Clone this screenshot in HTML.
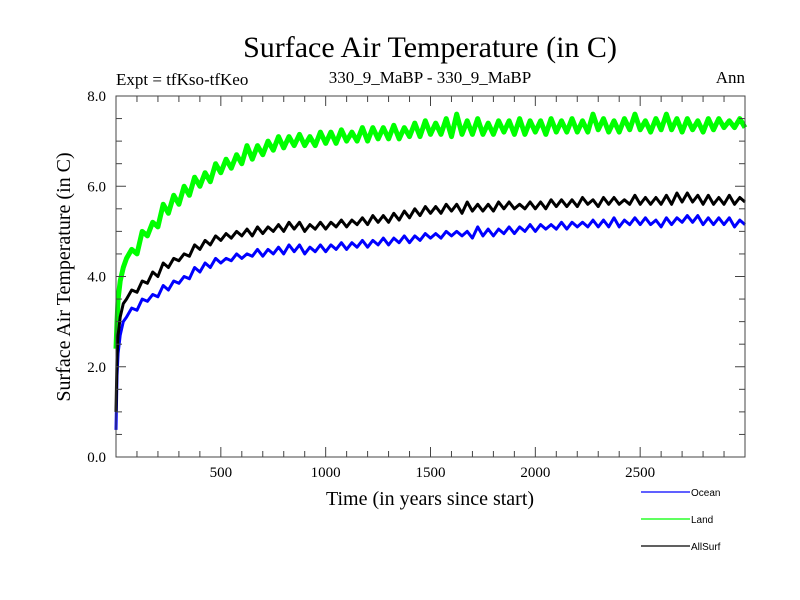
<!DOCTYPE html>
<html><head><meta charset="utf-8"><style>
body{margin:0;background:#fff}
svg{display:block}
text{font-family:"Liberation Serif",serif;fill:#000}
.leg{font-family:"Liberation Sans",sans-serif;font-size:10px}
</style></head><body>
<svg id="chart" width="800" height="600" viewBox="0 0 800 600">
<text x="430" y="57" font-size="30" text-anchor="middle">Surface Air Temperature (in C)</text>
<text x="116" y="85" font-size="17">Expt = tfKso-tfKeo</text>
<text x="430" y="83" font-size="17" text-anchor="middle">330_9_MaBP - 330_9_MaBP</text>
<text x="745" y="83" font-size="17" text-anchor="end">Ann</text>
<text x="430" y="505" font-size="20" text-anchor="middle">Time (in years since start)</text>
<text transform="translate(70,277) rotate(-90)" font-size="20" text-anchor="middle">Surface Air Temperature (in C)</text>
<g id="series"></g>
<rect x="116" y="96" width="629" height="361" fill="none" stroke="#444" stroke-width="1"/>
<g id="axes"></g>
<g>
<line x1="641" y1="492" x2="690" y2="492" stroke="#0000ff" stroke-width="1.2"/>
<text class="leg" x="691" y="496">Ocean</text>
<line x1="641" y1="519" x2="690" y2="519" stroke="#00ff00" stroke-width="1.2"/>
<text class="leg" x="691" y="523">Land</text>
<line x1="641" y1="546" x2="690" y2="546" stroke="#000" stroke-width="1.2"/>
<text class="leg" x="691" y="550">AllSurf</text>
</g>
</svg>
<script>
const yearsStart = [0,5,10,20,35,50];
const yearStep = 25;
const xTicks = [500,1000,1500,2000,2500];
const yTicks = [0,2,4,6,8];
const yTickLabels = ["0.0","2.0","4.0","6.0","8.0"];
const land = [2.4,3.0,3.5,3.9,4.2,4.4,
4.6,4.5,5.0,4.9,5.2,5.1,5.6,5.4,5.8,5.6,
6.0,5.8,6.2,6.0,6.3,6.1,6.5,6.3,6.6,6.4,6.7,6.5,6.9,6.6,6.9,6.7,7.0,6.8,7.1,6.85,7.1,6.9,7.15,6.9,
7.1,6.9,7.2,6.95,7.2,6.95,7.25,7.0,7.2,7.0,7.3,7.0,7.3,7.05,7.3,7.05,7.35,7.05,7.3,7.1,7.4,7.1,7.45,7.15,7.4,7.15,7.5,7.1,7.6,7.15,7.45,7.15,7.5,7.15,7.4,7.15,7.45,7.2,7.45,7.15,7.5,7.15,7.45,7.2,
7.45,7.15,7.5,7.2,7.45,7.2,7.5,7.2,7.45,7.2,7.6,7.25,7.5,7.2,7.45,7.2,7.5,7.25,7.6,7.25,7.45,7.2,7.5,7.25,7.6,7.25,7.5,7.2,7.5,7.25,7.45,7.2,7.5,7.25,7.5,7.3,7.45,7.3,7.5,7.3,7.45];
const ocean = [0.6,1.8,2.3,2.7,3.0,3.1,
3.3,3.25,3.5,3.45,3.6,3.55,3.8,3.7,3.9,3.85,
4.0,3.95,4.2,4.1,4.3,4.2,4.4,4.3,4.4,4.35,4.5,4.4,4.5,4.45,4.6,4.45,4.6,4.5,4.65,4.5,4.7,4.55,4.7,4.5,
4.65,4.55,4.7,4.55,4.7,4.6,4.75,4.6,4.75,4.65,4.8,4.65,4.8,4.7,4.85,4.7,4.85,4.75,4.9,4.75,4.9,4.8,4.95,4.85,4.95,4.85,5.0,4.9,5.0,4.9,5.0,4.85,5.1,4.9,5.05,4.9,5.05,4.95,5.1,4.95,5.1,5.0,5.15,5.0,
5.15,5.05,5.15,5.05,5.2,5.05,5.2,5.1,5.2,5.1,5.25,5.1,5.25,5.1,5.3,5.1,5.25,5.15,5.3,5.15,5.3,5.15,5.25,5.1,5.3,5.15,5.3,5.2,5.35,5.2,5.35,5.15,5.3,5.15,5.3,5.15,5.3,5.1,5.25,5.15];
const allSurf = [1.0,2.2,2.7,3.1,3.4,3.5,
3.7,3.65,3.9,3.85,4.1,4.0,4.3,4.2,4.4,4.35,
4.5,4.45,4.7,4.6,4.8,4.7,4.9,4.8,4.95,4.85,5.0,4.9,5.05,4.9,5.1,4.95,5.1,5.0,5.15,5.0,5.2,5.05,5.2,5.0,
5.15,5.05,5.2,5.05,5.2,5.1,5.25,5.1,5.25,5.15,5.3,5.15,5.35,5.2,5.35,5.2,5.4,5.25,5.45,5.3,5.5,5.35,5.55,5.4,5.55,5.4,5.6,5.45,5.6,5.4,5.65,5.45,5.6,5.45,5.6,5.45,5.65,5.5,5.65,5.5,5.6,5.5,5.65,5.5,
5.65,5.5,5.7,5.55,5.7,5.55,5.7,5.55,5.75,5.6,5.7,5.55,5.75,5.6,5.75,5.6,5.7,5.6,5.8,5.6,5.75,5.6,5.75,5.6,5.8,5.6,5.85,5.65,5.85,5.65,5.8,5.6,5.8,5.6,5.75,5.6,5.8,5.6,5.75,5.65];
const years = yearsStart.slice();
for (let y = 75; y <= 3000; y += yearStep) years.push(y);

const X0=116,X1=745,Y0=457,Y1=96;
const xs = v => X0 + (v/3000)*(X1-X0);
const ys = v => Y0 - (v/8)*(Y0-Y1);
const NS="http://www.w3.org/2000/svg";
const sg=document.getElementById('series');
function draw(vals,color,name,w){
  const n=Math.min(vals.length,years.length);
  let pts=[];
  for(let i=0;i<n;i++) pts.push(xs(years[i]).toFixed(1)+','+ys(vals[i]).toFixed(1));
  const p=document.createElementNS(NS,'polyline');
  p.setAttribute('points',pts.join(' '));
  p.setAttribute('fill','none');p.setAttribute('stroke',color);p.setAttribute('stroke-width',w);
  p.setAttribute('stroke-linejoin','round');
  
  
  sg.appendChild(p);
}
draw(land,'#00ff00','land-line','5');
draw(ocean,'#0000ff','ocean-line','3');
draw(allSurf,'#000000','allsurf-line','3');

const ag=document.getElementById('axes');
function ln(x1,y1,x2,y2){const l=document.createElementNS(NS,'line');
 l.setAttribute('x1',x1);l.setAttribute('y1',y1);l.setAttribute('x2',x2);l.setAttribute('y2',y2);
 l.setAttribute('stroke','#444');l.setAttribute('stroke-width','1');
 
 
 ag.appendChild(l);}
for(let v=100;v<3000;v+=100){const x=xs(v);const big=v%500===0;const L=big?10:6;
 ln(x,Y0,x,Y0-L);ln(x,Y1,x,Y1+L);}
for(let v=0.5;v<8;v+=0.5){const y=ys(v);const big=v%2===0;const L=big?10:6;
 ln(X0,y,X0+L,y);ln(X1,y,X1-L,y);}
xTicks.forEach(v=>{const t=document.createElementNS(NS,'text');
 t.setAttribute('x',xs(v));t.setAttribute('y',477);t.setAttribute('text-anchor','middle');t.setAttribute('font-size','15');
 t.textContent=String(v);
 
 
 ag.appendChild(t);});
yTicks.forEach((v,i)=>{const t=document.createElementNS(NS,'text');
 t.setAttribute('x',106);t.setAttribute('y',ys(v)+5);t.setAttribute('text-anchor','end');t.setAttribute('font-size','15');
 t.textContent=yTickLabels[i];
 
 
 ag.appendChild(t);});
</script>
</body></html>
